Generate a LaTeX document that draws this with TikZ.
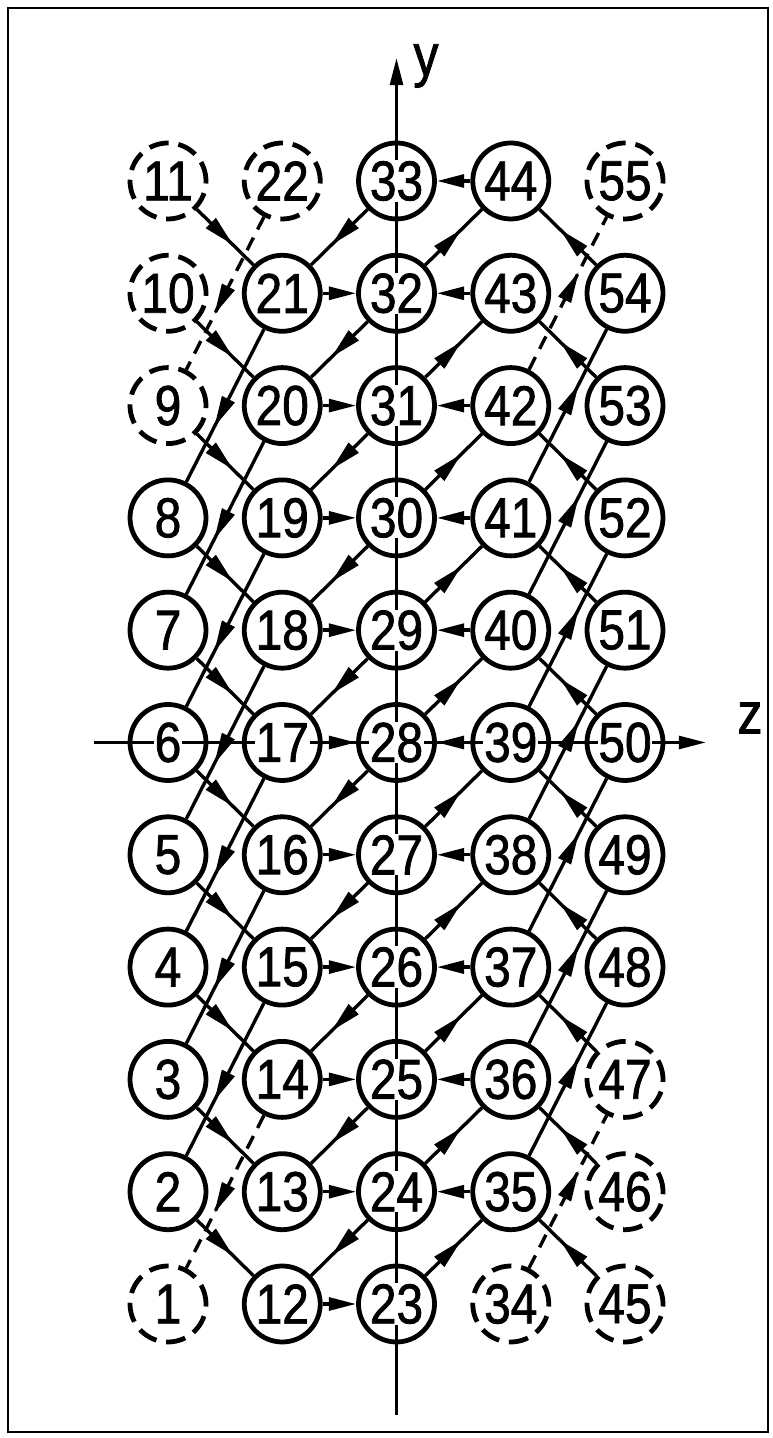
\documentclass[tikz,border=0pt]{standalone}
\usepackage{fontspec}
\setmainfont{Liberation Sans}[FakeStretch=0.85,FakeBold=1.3]
\usetikzlibrary{arrows.meta,decorations.markings}
\setlength{\fboxsep}{0.5pt}

\tikzset{
  cell/.style={circle,draw,line width=3.4pt,minimum size=1.9cm,inner sep=0pt,
    font=\fontsize{40}{40}\selectfont},
  ghost/.style={cell,dash pattern=on 14pt off 7pt},
  link/.style={line width=2.4pt},
  ghostline/.style={dash pattern=on 10pt off 6.5pt},
  headend/.style={-{Triangle[length=0.68cm,width=0.32cm]}},
  midhead/.style={postaction={decorate},
    decoration={markings,mark=at position 0.64 with {\arrow{Triangle[length=0.78cm,width=0.34cm]}}}},
}

\begin{document}
\begin{tikzpicture}
  \useasboundingbox (0,0) rectangle (19.325,35.95);
  \draw[line width=1.4pt] (0.2,0.15) rectangle (19.2,35.75);
  % axes
  \coordinate (ybot) at (9.9125,0.575);
  \coordinate (ytop) at (9.9125,34.5);
  \coordinate (zleft) at (2.35,17.3875);
  \coordinate (zright) at (17.65,17.3875);
  \draw[link,headend] (ybot) -- (ytop);
  \draw[link,headend] (zleft) -- (zright);
  \node[font=\fontsize{42}{42}\selectfont] (ylab) at (10.65,34.3) {y};
  \node[font=\fontsize{42}{42}\selectfont] (zlab) at (18.75,18.0) {z};
  % cells, numbered column by column from the bottom
  \foreach \c in {1,...,5}
    \foreach \r in {1,...,11} {
      \pgfmathtruncatemacro\n{11*(\c-1)+\r}
      \pgfmathtruncatemacro\g{(\n==1)||(\n==9)||(\n==10)||(\n==11)||(\n==22)||(\n==34)||(\n==45)||(\n==46)||(\n==47)||(\n==55)}
      \ifnum\g=1 \def\st{ghost}\else\def\st{cell}\fi
      \node[\st] (n\n) at ({4.2+2.85625*(\c-1)},{3.35+2.8075*(\r-1)}) {\colorbox{white}{\n}};
    }
  % horizontal links into the middle column
  \foreach \r in {1,...,10} {
    \pgfmathtruncatemacro\a{11+\r}
    \pgfmathtruncatemacro\b{22+\r}
    \draw[link,headend] (n\a) -- (n\b);
  }
  \foreach \r in {2,...,11} {
    \pgfmathtruncatemacro\a{33+\r}
    \pgfmathtruncatemacro\b{22+\r}
    \draw[link,headend] (n\a) -- (n\b);
  }
  % short diagonals
  \foreach \r in {2,...,11} {
    \pgfmathtruncatemacro\a{10+\r}
    \pgfmathtruncatemacro\b{22+\r}
    \draw[link,midhead] (n\r) -- (n\a);
    \draw[link,midhead] (n\b) -- (n\a);
  }
  \foreach \r in {1,...,10} {
    \pgfmathtruncatemacro\a{22+\r}
    \pgfmathtruncatemacro\b{34+\r}
    \pgfmathtruncatemacro\c{44+\r}
    \draw[link,midhead] (n\a) -- (n\b);
    \draw[link,midhead] (n\c) -- (n\b);
  }
  % long diagonals
  \foreach \r/\ls in {3/ghostline,4/solid,5/solid,6/solid,7/solid,8/solid,9/solid,10/solid,11/ghostline} {
    \pgfmathtruncatemacro\a{11+\r}
    \pgfmathtruncatemacro\b{\r-2}
    \draw[link,midhead,\ls] (n\a) -- (n\b);
  }
  \foreach \r/\ls in {1/ghostline,2/solid,3/solid,4/solid,5/solid,6/solid,7/solid,8/solid,9/ghostline} {
    \pgfmathtruncatemacro\a{33+\r}
    \pgfmathtruncatemacro\b{46+\r}
    \draw[link,midhead,\ls] (n\a) -- (n\b);
  }
\end{tikzpicture}
\end{document}
